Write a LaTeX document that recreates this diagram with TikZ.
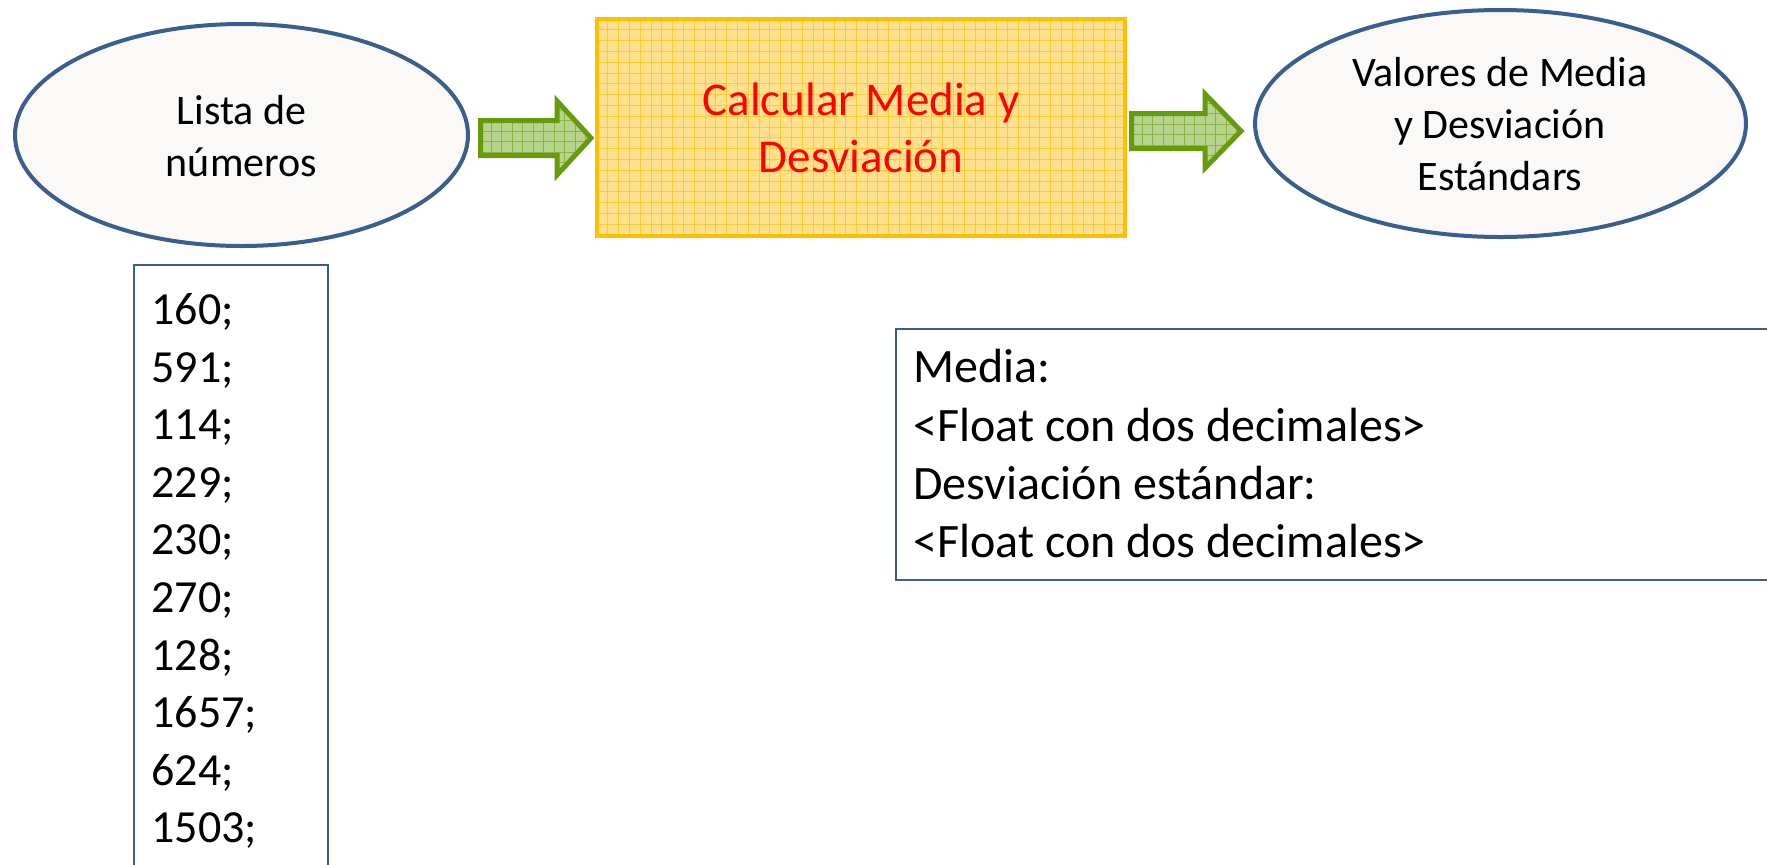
\documentclass[tikz,border=0pt]{standalone}
\usepackage{fontspec}
\setmainfont{Carlito}
\usetikzlibrary{shapes.geometric}
\definecolor{ellline}{HTML}{3A5F8F}
\definecolor{ellfill}{HTML}{FAF9F8}
\definecolor{boxline}{HTML}{3A5F8F}
\definecolor{calcline}{HTML}{FFC000}
\definecolor{calcfill}{HTML}{FFE08C}
\definecolor{calcgrid}{HTML}{FFC934}
\definecolor{arrline}{HTML}{679B0E}
\definecolor{arrfill}{HTML}{B6D48C}
\definecolor{arrgrid}{HTML}{8BB446}
\definecolor{calctext}{HTML}{FF0000}
\begin{document}
\begin{tikzpicture}[x=0.5pt,y=-0.5pt,
  ell/.style={ellipse, draw=ellline, line width=2pt, fill=ellfill, inner sep=0pt},
  txt/.style={inner sep=0pt, align=center, text=black},
  ltxt/.style={inner sep=0pt, align=left, text=black, anchor=north west},
  listbox/.style={draw=boxline, line width=1pt, inner sep=0pt},
  calcbox/.style={fill=calcfill, inner sep=0pt},
  calcborder/.style={draw=calcline, line width=2pt},
  calcgridline/.style={draw=calcgrid, line width=0.5pt},
  arrgridline/.style={draw=arrgrid, line width=0.5pt},
  arrborder/.style={draw=arrline, line width=2.5pt, line join=miter}]
\useasboundingbox (0,0) rectangle (1767,864);
\clip (0,0) rectangle (1767,864);
\fill[white] (0,0) rectangle (1767,864);

% left ellipse
\node[ell, minimum width=226.5pt, minimum height=111pt] (lista) at (241.5,135) {};
\node[txt, font=\fontsize{21}{26}\selectfont] (listaT) at (241.5,136) {Lista de\\números};

% right ellipse
\node[ell, minimum width=245.5pt, minimum height=113.5pt] (valores) at (1500.5,123.5) {};
\node[txt, font=\fontsize{21}{26}\selectfont] (valoresT) at (1500,124) {Valores de Media\\y Desviación\\Estándars};

% center box
\node[calcbox, minimum width=264pt, minimum height=108.5pt] (calc) at (861,127.5) {};
\begin{scope}
  \clip (calc.north west) rectangle (calc.south east);
  \foreach \i in {1,...,49} {\draw[calcgridline] (597+\i*10.8,19) -- (597+\i*10.8,236);}
  \foreach \j in {1,...,20} {\draw[calcgridline] (597,19+\j*10.8) -- (1125,19+\j*10.8);}
\end{scope}
\draw[calcborder] (calc.north west) rectangle (calc.south east);
\node[txt, text=calctext, font=\fontsize{23.5}{28.5}\selectfont] (calcT) at (861,128) {Calcular Media y\\Desviación};

% arrow 1
\begin{scope}
  \clip (480.5,120.5) -- (557,120.5) -- (557,101) -- (591,138) -- (557,175) -- (557,155.5) -- (480.5,155.5) -- cycle;
  \fill[arrfill] (470,90) rectangle (600,190);
  \foreach \i in {1,...,11} {\draw[arrgridline] (480.5+\i*10.5,90) -- (480.5+\i*10.5,190);}
  \foreach \j in {-2,...,5} {\draw[arrgridline] (470,120.5+\j*10.5) -- (600,120.5+\j*10.5);}
\end{scope}
\draw[arrborder] (480.5,120.5) -- (557,120.5) -- (557,101) -- (591,138) -- (557,175) -- (557,155.5) -- (480.5,155.5) -- cycle;

% arrow 2
\begin{scope}
  \clip (1131.5,113.5) -- (1205,113.5) -- (1205,94) -- (1241,131) -- (1205,168) -- (1205,148.5) -- (1131.5,148.5) -- cycle;
  \fill[arrfill] (1120,80) rectangle (1250,180);
  \foreach \i in {1,...,11} {\draw[arrgridline] (1131.5+\i*10.5,80) -- (1131.5+\i*10.5,180);}
  \foreach \j in {-2,...,5} {\draw[arrgridline] (1120,113.5+\j*10.5) -- (1250,113.5+\j*10.5);}
\end{scope}
\draw[arrborder] (1131.5,113.5) -- (1205,113.5) -- (1205,94) -- (1241,131) -- (1205,168) -- (1205,148.5) -- (1131.5,148.5) -- cycle;

% numbers box
\node[listbox, minimum width=97pt, minimum height=317.5pt] (nums) at (231,582.5) {};
\node[ltxt, font=\fontsize{23}{28.8}\selectfont] (numsT) at (151,293) {160;\\591;\\114;\\229;\\230;\\270;\\128;\\1657;\\624;\\1503;};

% media box
\node[listbox, minimum width=452pt, minimum height=125.5pt] (media) at (1348,454.5) {};
\node[ltxt, font=\fontsize{24}{29.2}\selectfont] (mediaT) at (913,349) {Media:\\<Float con dos decimales>\\Desviación estándar:\\<Float con dos decimales>};
\end{tikzpicture}
\end{document}
